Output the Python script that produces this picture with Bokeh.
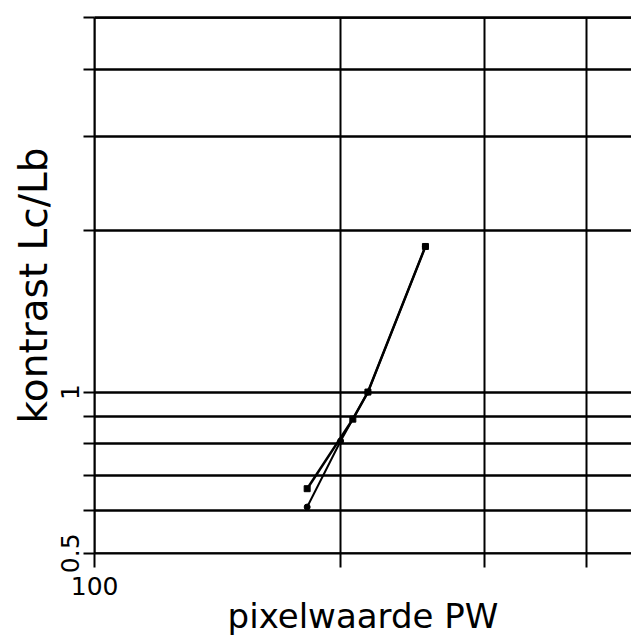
from bokeh.plotting import figure
from bokeh.models import FixedTicker, LogAxis
from bokeh.embed import file_html
from bokeh.resources import INLINE

# data
pw_a = [182, 207, 216, 254]
k_a = [0.66, 0.89, 1.0, 1.87]
pw_b = [182, 200, 216, 254]
k_b = [0.61, 0.81, 1.0, 1.87]

x_ticks = [100, 200, 300, 400]
x_labels = {100: "100"}
y_ticks = [0.5, 0.6, 0.7, 0.8, 0.9, 1, 2, 3, 4, 5]
y_labels = {0.5: "0.5", 1: "1"}

FONT = "DejaVu Sans"

p = figure(width=631, height=643, x_axis_type="log", y_axis_type="log",
           x_range=(99.95, 454), y_range=(0.4995, 5.005),
           output_backend="svg", toolbar_location=None,
           min_border_left=94, min_border_right=0, min_border_top=17,
           min_border_bottom=90)
p.outline_line_color = None
p.background_fill_color = "white"
p.border_fill_color = "white"

for ax, ticks, labels, tout in ((p.xaxis[0], x_ticks, x_labels, 14),
                                (p.yaxis[0], y_ticks, y_labels, 11)):
    ax.ticker = FixedTicker(ticks=ticks, minor_ticks=[])
    ax.major_label_overrides = {t: labels.get(t, "") for t in ticks}
    ax.axis_line_color = "black"
    ax.axis_line_width = 2
    ax.major_tick_line_color = "black"
    ax.major_tick_line_width = 2
    ax.major_tick_in = 0
    ax.major_tick_out = tout
    ax.minor_tick_line_color = None
    ax.major_label_text_font = FONT
    ax.major_label_text_font_size = "25px"
    ax.major_label_text_color = "black"
    ax.axis_label_text_font = FONT
    ax.axis_label_text_font_style = "normal"
    ax.axis_label_text_color = "black"

p.xaxis.axis_label = "pixelwaarde PW"
p.yaxis.axis_label = "kontrast Lc/Lb"
p.xaxis.axis_label_text_font_size = "34px"
p.yaxis.axis_label_text_font_size = "39px"
p.yaxis.major_label_orientation = "vertical"
p.xaxis.major_label_standoff = 9
p.yaxis.major_label_standoff = 4
p.xaxis.axis_label_standoff = -2
p.yaxis.axis_label_standoff = 3

# top border line (the 5 grid line at the frame edge)
top = LogAxis(ticker=FixedTicker(ticks=[], minor_ticks=[]),
              axis_line_color="black", axis_line_width=2.5,
              major_tick_line_color=None, minor_tick_line_color=None,
              major_label_text_font_size="0px", major_label_standoff=0)
p.add_layout(top, "above")

p.xgrid.ticker = FixedTicker(ticks=x_ticks, minor_ticks=[])
p.ygrid.ticker = FixedTicker(ticks=y_ticks, minor_ticks=[])
p.xgrid.grid_line_color = "black"
p.xgrid.grid_line_width = 2
p.ygrid.grid_line_color = "black"
p.ygrid.grid_line_width = 2.5

p.line(pw_a, k_a, line_color="black", line_width=2.5)
p.scatter(pw_a, k_a, marker="square", size=6, color="black")
p.line(pw_b, k_b, line_color="black", line_width=2)
p.scatter(pw_b, k_b, marker="circle", size=6, color="black")

open("out.html", "w").write(file_html(p, INLINE))
